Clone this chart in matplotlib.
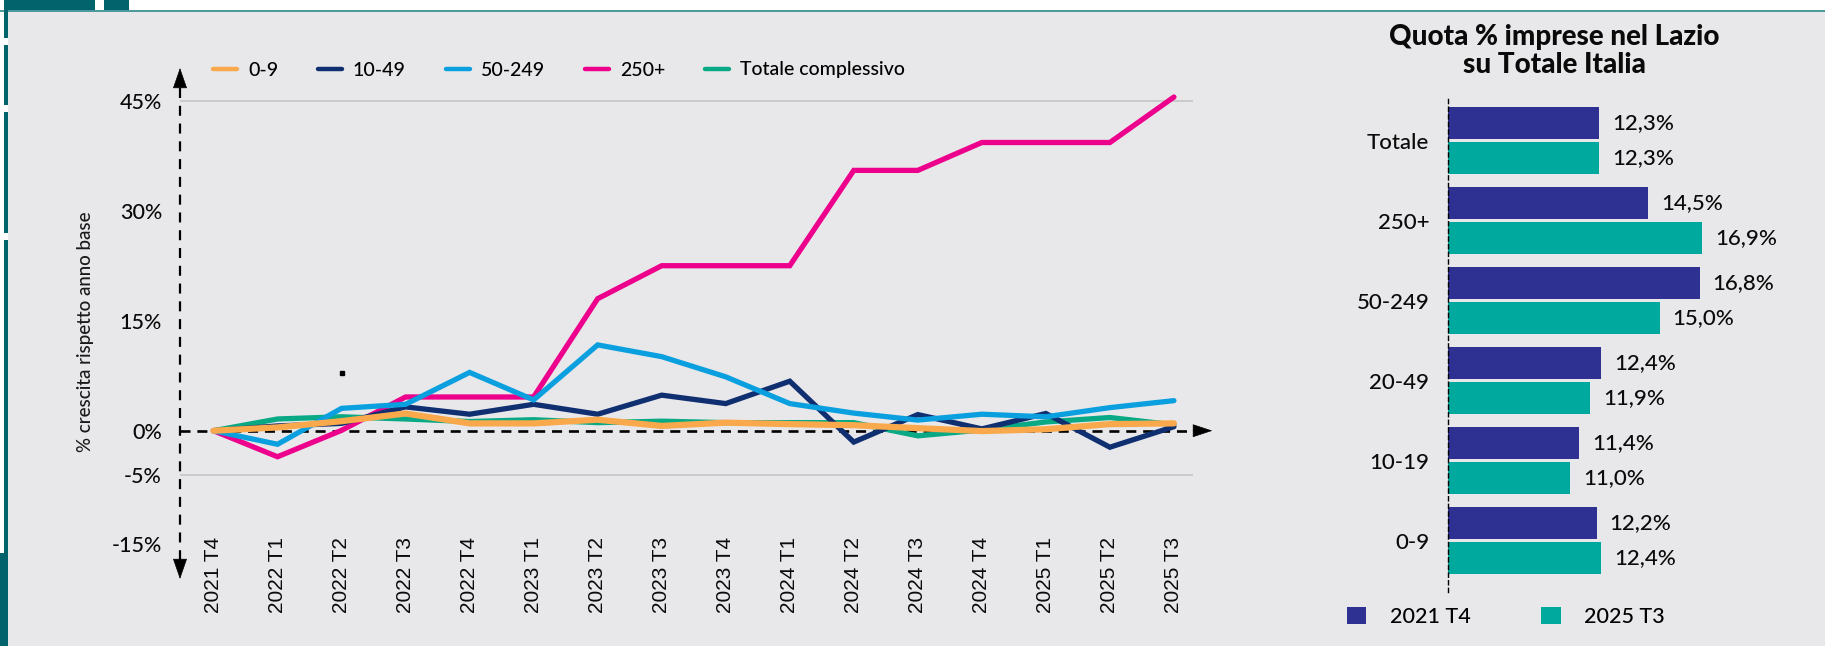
import matplotlib
matplotlib.use("Agg")
import matplotlib.pyplot as plt
from matplotlib.patches import Rectangle, Patch
from matplotlib.lines import Line2D

# ---------------- data ----------------
quarters = ["2021 T4", "2022 T1", "2022 T2", "2022 T3", "2022 T4",
            "2023 T1", "2023 T2", "2023 T3", "2023 T4",
            "2024 T1", "2024 T2", "2024 T3", "2024 T4",
            "2025 T1", "2025 T2", "2025 T3"]

s_0_9 = [0, 0.45, 1.3, 2.35, 1.0, 1.0, 1.5, 0.65, 1.1, 0.9, 0.75, 0.35, -0.05, 0.2, 0.9, 1.0]
s_10_49 = [0, 0.65, 1.0, 3.25, 2.25, 3.6, 2.25, 4.85, 3.7, 6.75, -1.55, 2.2, 0.25, 2.35, -2.25, 0.55]
s_50_249 = [0, -1.85, 3.05, 3.6, 7.95, 4.2, 11.7, 10.1, 7.35, 3.7, 2.4, 1.45, 2.25, 1.9, 3.15, 4.1]
s_250 = [0, -3.55, 0.05, 4.6, 4.6, 4.6, 18.0, 22.5, 22.5, 22.5, 35.5, 35.5, 39.3, 39.3, 39.3, 45.5]
s_tot = [0, 1.6, 1.9, 1.6, 1.25, 1.5, 1.1, 1.3, 1.1, 1.1, 1.1, -0.7, 0.1, 1.2, 1.8, 0.8]

line_names = ["0-9", "10-49", "50-249", "250+", "Totale complessivo"]

ytick_vals = [45, 30, 15, 0, -6.1, -15.5]
ytick_labels = ["45%", "30%", "15%", "0%", "-5%", "-15%"]
stray_dot = (2, 7.9)

bar_cats = ["Totale", "250+", "50-249", "20-49", "10-19", "0-9"]
bar_2021 = [12.3, 14.5, 16.8, 12.4, 11.4, 12.2]
bar_2025 = [12.3, 16.9, 15.0, 11.9, 11.0, 12.4]
bar_series = ["2021 T4", "2025 T3"]

# ---------------- style ----------------
W, H = 1825, 646
BG = "#E8E8EA"
TEAL = "#03636C"
C_ORANGE = "#F9A94B"
C_NAVY = "#0F2F70"
C_LBLUE = "#0AA0DF"
C_PINK = "#EC008C"
C_GREEN = "#08A984"
B_NAVY = "#2E3192"
B_GREEN = "#00A99D"
GRID = "#C7C7C9"
FONT = ["Lato", "DejaVu Sans"]
TXT = "#0A0A0A"

plt.rcParams["font.family"] = FONT
plt.rcParams["font.weight"] = "medium"

fig = plt.figure(figsize=(W / 100, H / 100), dpi=100)
fig.patch.set_facecolor("white")


def fr(x0, y0, x1, y1):
    return [x0 / W, 1 - y1 / H, (x1 - x0) / W, (y1 - y0) / H]


def rect(x0, y0, x1, y1, color, z=0):
    r = Rectangle((x0 / W, 1 - y1 / H), (x1 - x0) / W, (y1 - y0) / H,
                  transform=fig.transFigure, facecolor=color, edgecolor="none", zorder=z)
    fig.add_artist(r)


# decorations
rect(8, 11, W, H, BG, z=-10)
rect(0, 10, W, 11.5, "#4C9A9E", z=-9)
rect(4, 0, 8, H, TEAL, z=-9)
rect(0, 553, 8, H, TEAL, z=-9)
rect(4, 0, 95, 10, TEAL, z=-9)
rect(104, 0, 129, 10, TEAL, z=-9)
for yy in (38, 105, 233):
    rect(0, yy, 8, yy + 7, "white", z=-8)

# ---------------- line chart ----------------
ax1 = fig.add_axes(fr(180, 68, 1193, 579))
ax1.set_facecolor("none")
for sp in ax1.spines.values():
    sp.set_visible(False)
x = list(range(len(quarters)))
ax1.set_xlim(-0.523, 15.298)
ax1.set_ylim(-20.22, 49.46)

# grid lines at top and -5%
for gv in (ytick_vals[0], ytick_vals[4]):
    ax1.axhline(gv, color=GRID, lw=1.3, zorder=1)

# axes (dashed) with arrows
x0 = ax1.get_xlim()[0]
ax1.plot([x0, x0], [46.8, -17.6], color="black", lw=1.6, ls=(0, (4.5, 3.5)), clip_on=False, zorder=2)
ax1.plot([x0, 15.33], [0, 0], color="black", lw=1.9, ls=(0, (3.8, 2.6)), clip_on=False, zorder=2)
arrow_kw = dict(color="black", lw=0.5, shrinkA=0, shrinkB=0)
ax1.annotate("", xy=(x0, 49.46), xytext=(x0, 46.5), annotation_clip=False,
             arrowprops=dict(arrowstyle="-|>,head_length=1.35,head_width=0.47", **arrow_kw))
ax1.annotate("", xy=(x0, -20.22), xytext=(x0, -17.3), annotation_clip=False,
             arrowprops=dict(arrowstyle="-|>,head_length=1.35,head_width=0.47", **arrow_kw))
ax1.annotate("", xy=(15.6, 0), xytext=(15.3, 0), annotation_clip=False,
             arrowprops=dict(arrowstyle="-|>,head_length=1.3,head_width=0.43", **arrow_kw))

series = [
    (s_tot, C_GREEN, 3.8, 3),
    (s_250, C_PINK, 3.8, 4),
    (s_10_49, C_NAVY, 3.8, 5),
    (s_50_249, C_LBLUE, 3.8, 6),
    (s_0_9, C_ORANGE, 4.5, 7),
]
for vals, col, lw, z in series:
    ax1.plot(x, vals, color=col, lw=lw, zorder=z, solid_joinstyle="miter",
             solid_capstyle="round")

ax1.plot([stray_dot[0]], [stray_dot[1]], marker="s", ms=3, color="black", zorder=8)

ax1.set_yticks(ytick_vals)
ax1.set_yticklabels(ytick_labels, fontsize=15.5, color=TXT)
ax1.tick_params(axis="y", length=0, pad=13)
ax1.set_xticks([])
for i, q in enumerate(quarters):
    ax1.text(i, -14.5, q, rotation=90, ha="center", va="top", fontsize=15,
             family=["Liberation Sans", "DejaVu Sans"], weight="normal", color=TXT)

fig.text(85 / W, 1 - 332 / H, "% crescita rispetto anno base", rotation=90,
         ha="center", va="center", fontsize=13.5, color="#1A1A1A")

handles = [Line2D([0], [0], color=c, lw=3.2, solid_capstyle="round")
           for c in (C_ORANGE, C_NAVY, C_LBLUE, C_PINK, C_GREEN)]
fig.legend(handles, line_names, loc="center left", bbox_to_anchor=(213 / W, 1 - 70 / H),
           ncol=5, frameon=False, fontsize=14, handlelength=1.25, handletextpad=0.55,
           columnspacing=2.05, borderpad=0, borderaxespad=0)

# ---------------- bar chart ----------------
ax2 = fig.add_axes(fr(1448.2, 96.7, 1800, 591.7))
ax2.set_facecolor("none")
for k, sp in ax2.spines.items():
    sp.set_visible(k == "left")
ax2.spines["left"].set_linestyle((0, (3, 2.5)))
ax2.spines["left"].set_linewidth(1.0)
ax2.set_xlim(5.55, 21.28)
ax2.set_ylim(5.639, -0.549)
g = list(range(len(bar_cats)))
off = 0.2175
hgt = 0.396
ax2.barh([i - off for i in g], bar_2021, height=hgt, color=B_NAVY, zorder=2)
ax2.barh([i + off for i in g], bar_2025, height=hgt, color=B_GREEN, zorder=2)
for i in g:
    for v, dy in ((bar_2021[i], -off), (bar_2025[i], off)):
        ax2.text(v + 0.57, i + dy, f"{v:.1f}%".replace(".", ","), ha="left", va="center",
                 fontsize=16, color=TXT, clip_on=False)
ax2.set_yticks(g)
ax2.set_yticklabels(bar_cats, fontsize=16, color=TXT)
ax2.tick_params(axis="y", length=0, pad=13.5)
ax2.set_xticks([])

fig.text(1554.6 / W, 1 - 51 / H, "Quota % imprese nel Lazio\nsu Totale Italia",
         ha="center", va="center", fontsize=20, fontweight="black", color=TXT,
         linespacing=1.05)

bh = [Patch(facecolor=B_NAVY), Patch(facecolor=B_GREEN)]
fig.legend(bh, bar_series, loc="center left", bbox_to_anchor=(1347 / W, 1 - 616.7 / H),
           ncol=2, frameon=False, fontsize=15.5, handlelength=0.9, handleheight=0.9,
           handletextpad=1.08, columnspacing=3.3, borderpad=0, borderaxespad=0)

fig.savefig("out.png", dpi=100, facecolor="white")
